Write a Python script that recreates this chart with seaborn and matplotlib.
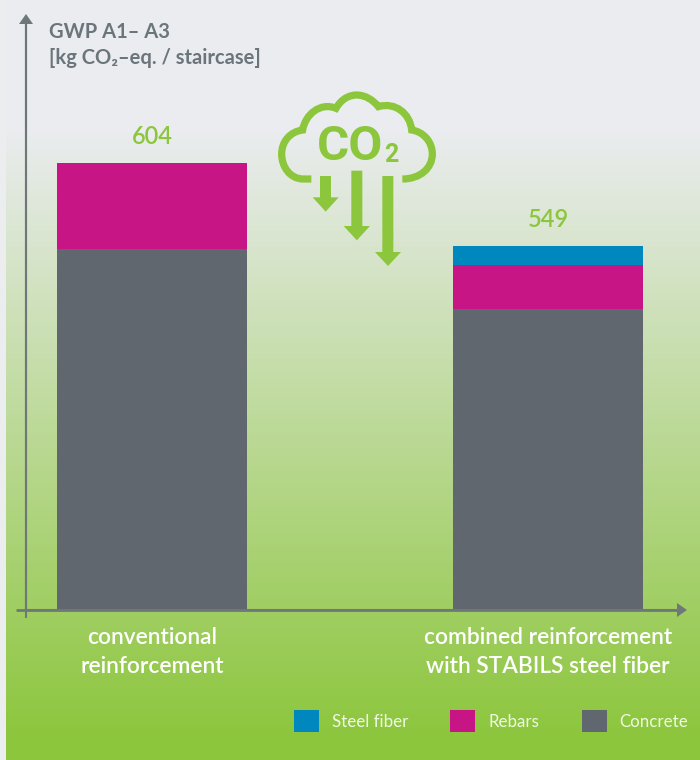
import numpy as np
import pandas as pd
import matplotlib
matplotlib.use("Agg")
import matplotlib.pyplot as plt
from matplotlib.path import Path
from matplotlib.patches import PathPatch, Polygon, Patch
from matplotlib.colors import LinearSegmentedColormap
import seaborn as sns

categories = ["conventional\nreinforcement", "combined reinforcement\nwith STABILS steel fiber"]
concrete = [488, 407]
rebars = [116, 59.5]
steel_fiber = [0, 25.7]
total_labels = ["604", "549"]
series_names = ["Steel fiber", "Rebars", "Concrete"]
y_title = ["GWP A1\u2013 A3", "[kg CO\u2082\u2013eq. / staircase]"]

C_CONCRETE = "#60676F"
C_REBAR = "#C71585"
C_STEEL = "#0087BE"
C_GREEN = "#8CC63C"
C_AXIS = "#6E7879"
C_TITLE = "#6B757C"
FONT = ["Lato", "DejaVu Sans"]

sns.set_style("white")
plt.rcParams["font.family"] = FONT

W, H = 700, 760
fig = plt.figure(figsize=(W / 100, H / 100), dpi=100, facecolor="#EBEDEF")


def px_rect(l, t, r, b):
    return [l / W, 1 - b / H, (r - l) / W, (b - t) / H]


# background gradient
bg = fig.add_axes(px_rect(6, 0, W, H), zorder=0)
bg.axis("off")
ys = np.arange(H)
g = np.clip((ys - 130) / (740 - 130), 0, 1)
cmap = LinearSegmentedColormap.from_list("bg", ["#EAECEF", C_GREEN])
bg.imshow(g[:, None], aspect="auto", cmap=cmap, vmin=0, vmax=1, extent=(0, 1, 1, 0))

# main chart
ax = fig.add_axes(px_rect(26, 20, 680, 610), zorder=2)
ax.patch.set_alpha(0)
df = pd.DataFrame({"cat": categories, "Concrete": concrete, "Rebars": rebars, "Steel fiber": steel_fiber})
bw = 190 / 396
kw = dict(saturation=1, width=bw, ax=ax, linewidth=0, edgecolor="none")
sns.barplot(data=df, x="cat", y="Concrete", color=C_CONCRETE, **kw)
sns.barplot(data=df, x="cat", y="Rebars", bottom=df["Concrete"], color=C_REBAR, **kw)
sns.barplot(data=df, x="cat", y="Steel fiber", bottom=df["Concrete"] + df["Rebars"], color=C_STEEL, **kw)
ax.set_xlim((26 - 152) / 396, (680 - 152) / 396)
ax.set_ylim(0, 590 / (447 / 604))
ax.set_xlabel("")
ax.set_ylabel("")
ax.set_yticks([])
ax.tick_params(axis="x", length=0, pad=12)
for lab in ax.get_xticklabels():
    lab.set_color("white")
    lab.set_fontsize(16.4)
    lab.set_fontweight("semibold")
    lab.set_linespacing(1.48)
sns.despine(ax=ax)
for s in ("left", "bottom"):
    ax.spines[s].set_color(C_AXIS)
    ax.spines[s].set_linewidth(1.5)

tops = df["Concrete"] + df["Rebars"] + df["Steel fiber"]
for i, (t, lab) in enumerate(zip(tops, total_labels)):
    ax.annotate(lab, (i, t), xytext=(0, 10.5), textcoords="offset points", ha="center", va="bottom",
                color=C_GREEN, fontsize=17, fontweight="semibold")

# pixel overlay: axis extensions, titles, icon
ov = fig.add_axes([0, 0, 1, 1], zorder=3)
ov.set_xlim(0, W)
ov.set_ylim(H, 0)
ov.axis("off")
ov.plot([25.5, 25.5], [618, 22], color=C_AXIS, lw=1.5, solid_capstyle="butt")
ov.plot([16, 680], [610, 610], color=C_AXIS, lw=2, solid_capstyle="butt")
ov.add_patch(Polygon([[19, 24], [33, 24], [26, 14]], closed=True, fc=C_AXIS, ec="none"))
ov.add_patch(Polygon([[677, 603], [677, 617], [687, 610]], closed=True, fc=C_AXIS, ec="none"))

ov.text(49, 32, y_title[0], color=C_TITLE, fontsize=14.5, fontweight="bold", va="center", ha="left")
ov.text(49, 58, y_title[1], color=C_TITLE, fontsize=14.5, fontweight="bold", va="center", ha="left")


def Z(x, y):
    return (270 + x / 3, 80 + y / 3)


M, L, C = Path.MOVETO, Path.LINETO, Path.CURVE4
seq = [(M, (124, 297)), (L, (100, 297)),
       (C, (60, 297)), (C, (35, 260)), (C, (35, 222)),
       (C, (35, 185)), (C, (60, 155)), (C, (98, 150)),
       (C, (105, 105)), (C, (150, 65)), (C, (198, 85)),
       (C, (215, 55)), (C, (240, 45)), (C, (260, 45)),
       (C, (285, 45)), (C, (310, 60)), (C, (325, 80)),
       (C, (375, 65)), (C, (420, 100)), (C, (425, 150)),
       (C, (460, 155)), (C, (487, 185)), (C, (487, 222)),
       (C, (487, 265)), (C, (450, 297)), (C, (397, 297))]
cloud = Path([Z(*p) for _, p in seq], [c for c, _ in seq])
ov.add_patch(PathPatch(cloud, fc="none", ec=C_GREEN, lw=5.2, capstyle="butt"))

for l, r, top, neck, hl, hr, tip in [(150, 183, 288, 352, 128, 206, 395),
                                     (244, 277, 272, 438, 221, 300, 481),
                                     (337, 370, 288, 516, 315, 393, 558)]:
    pts = [(l, top), (r, top), (r, neck), (hr, neck), ((hl + hr) / 2, tip), (hl, neck), (l, neck)]
    ov.add_patch(Polygon([Z(*p) for p in pts], closed=True, fc=C_GREEN, ec="none"))

ov.text(*Z(241, 200), "CO", color=C_GREEN, fontsize=35.5, fontweight="bold", family="Roboto", ha="center", va="center")
ov.text(*Z(365, 224), "2", color=C_GREEN, fontsize=18, fontweight="bold", family="Roboto", ha="center", va="center")

# legend
handles = [Patch(fc=C_STEEL, ec="none"), Patch(fc=C_REBAR, ec="none"), Patch(fc=C_CONCRETE, ec="none")]
leg = ov.legend(handles, series_names, ncol=3, frameon=False, loc="center right",
                bbox_to_anchor=(688.5, 721), bbox_transform=ov.transData,
                fontsize=12.2, labelcolor="#F1F8E4", handlelength=1.475, handleheight=1.6,
                handletextpad=0.77, columnspacing=2.5, borderpad=0, borderaxespad=0)

fig.savefig("out.png", dpi=100, facecolor=fig.get_facecolor())
